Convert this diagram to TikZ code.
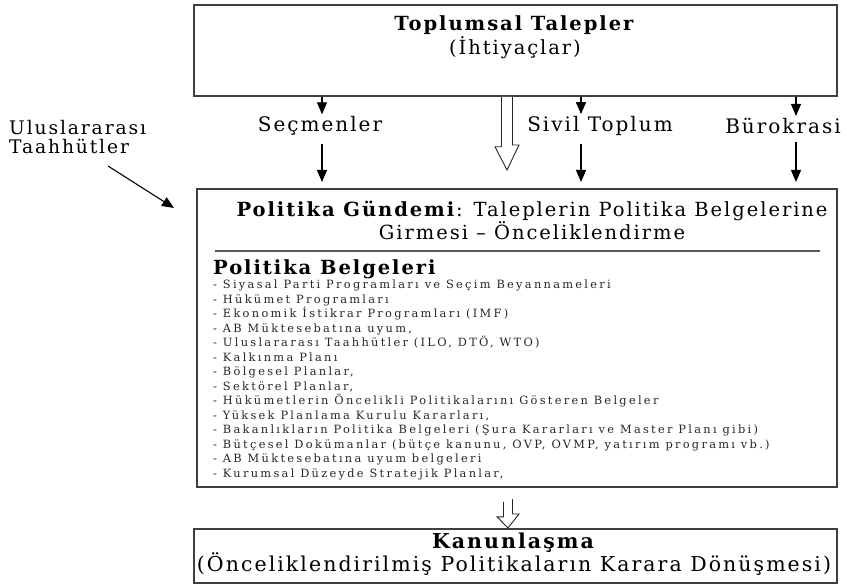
\documentclass[tikz,border=0pt]{standalone}
\usepackage{fontspec}
\setmainfont[LetterSpace=10]{DejaVu Serif}
\usetikzlibrary{arrows.meta}

\begin{document}
\begin{tikzpicture}[x=1pt,y=-1pt,
	box/.style={draw=black!75, line width=1.8pt, inner sep=0pt},
	arr/.style={-{Triangle[width=10pt,length=12pt]}, line width=1.1pt},
	hollow/.style={draw=black!85, line width=0.9pt, fill=white},
	lbl/.style={font=\fontsize{20}{20}\selectfont, inner sep=0pt},
	head/.style={font=\fontsize{19.5}{24}\selectfont, align=center, inner sep=0pt},
	item/.style={font=\fontsize{11.4}{14.5}\selectfont\addfontfeature{LetterSpace=20}, text=black!85, align=left, inner sep=0pt}]

	\useasboundingbox (0,0) rectangle (859,585);

	% Social demands (top box)
	\node[box, minimum width=643pt, minimum height=91pt, anchor=north west] (demand) at (193,4) {};
	\node[head] (demandtxt) at (515,37) {\textbf{Toplumsal Talepler}\\(İhtiyaçlar)};

	% Actors between demands and agenda
	\node[lbl] (voters) at (320,126) {Seçmenler};
	\node[lbl] (civil) at (600,126) {Sivil Toplum};
	\node[lbl] (bureau) at (783,126) {Bürokrasi};
	\node[lbl, font=\fontsize{18.7}{19.5}\selectfont, align=left, anchor=west] (intl) at (9,137) {Uluslararası\\Taahhütler};

	% Policy agenda (middle box)
	\node[box, minimum width=640pt, minimum height=298pt, anchor=north west] (agenda) at (196,188) {};
	\node[head, font=\fontsize{19.5}{21}\selectfont] (agendatxt) at (532,220.5) {\textbf{Politika Gündemi}: Taleplerin Politika Belgelerine\\Girmesi – Önceliklendirme};
	\coordinate (ruleL) at (215,251);
	\coordinate (ruleR) at (820,251);
	\draw[black!65, line width=2.6pt] (ruleL) -- (ruleR);
	\node[head, anchor=west] (docs) at (213,269) {\textbf{Politika Belgeleri}};
	\node[item, anchor=north west] (doclist) at (213,280) {%
		- Siyasal Parti Programları ve Seçim Beyannameleri\\
		- Hükümet Programları\\
		- Ekonomik İstikrar Programları (IMF)\\
		- AB Müktesebatına uyum,\\
		- Uluslararası Taahhütler (ILO, DTÖ, WTO)\\
		- Kalkınma Planı\\
		- Bölgesel Planlar,\\
		- Sektörel Planlar,\\
		- Hükümetlerin Öncelikli Politikalarını Gösteren Belgeler\\
		- Yüksek Planlama Kurulu Kararları,\\
		- Bakanlıkların Politika Belgeleri (Şura Kararları ve Master Planı gibi)\\
		- Bütçesel Dokümanlar (bütçe kanunu, OVP, OVMP, yatırım programı vb.)\\
		- AB Müktesebatına uyum belgeleri\\
		- Kurumsal Düzeyde Stratejik Planlar,};

	% Legislation (bottom box)
	\node[box, minimum width=643pt, minimum height=54pt, anchor=north west] (law) at (193,528) {};
	\node[head, font=\fontsize{20.5}{23}\selectfont] (lawtxt) at (514,554.5) {\textbf{Kanunlaşma}\\(Önceliklendirilmiş Politikaların Karara Dönüşmesi)};

	% Arrow columns
	\coordinate (c1) at (322,0);
	\coordinate (c2) at (581,0);
	\coordinate (c3) at (796,0);
	\coordinate (c4) at (507,0);
	\coordinate (c5) at (508,0);

	% Thin arrows
	\draw[arr, shorten >=2pt] (c1 |- demand.south) -- (c1 |- voters.north);
	\draw[arr, shorten >=2pt] (c2 |- demand.south) -- (c2 |- civil.north);
	\draw[arr, shorten >=2pt] (c3 |- demand.south) -- (c3 |- bureau.north);
	\draw[arr, shorten <=8pt, shorten >=6pt] (c1 |- voters.south) -- (c1 |- agenda.north);
	\draw[arr, shorten <=8pt, shorten >=6pt] (c2 |- civil.south) -- (c2 |- agenda.north);
	\draw[arr, shorten <=8pt, shorten >=6pt] (c3 |- bureau.south) -- (c3 |- agenda.north);
	\coordinate (intlstart) at (108,166);
	\coordinate (intltip) at (174,208);
	\draw[arr] (intlstart) -- (intltip);

	% Hollow arrows
	\draw[hollow] ([xshift=-5.5pt]c4 |- demand.south) -- ++(0,50) -- ++(-6.5,0) -- ([yshift=18pt]c4 |- agenda.north)
		-- ++(12,-25) -- ++(-6.5,0) -- ([xshift=5.5pt]c4 |- demand.south);
	\draw[hollow] ([xshift=-4.5pt]c5 |- agenda.south) ++(0,14) -- ++(0,15) -- ++(-6.5,0) -- (c5 |- law.north)
		-- ++(11,-14) -- ++(-6.5,0) -- ++(0,-15);
\end{tikzpicture}
\end{document}
